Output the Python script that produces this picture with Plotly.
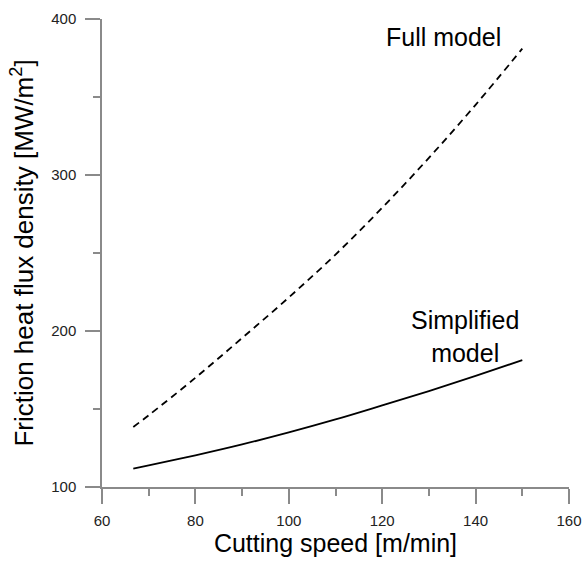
import plotly.graph_objects as go

speed = [66.7, 70, 80, 90, 100, 110, 120, 130, 140, 150]
full_model = [138.5, 146, 170, 195.5, 221.5, 249, 279, 311, 345, 381]
simplified_model = [111.8, 113.8, 120.3, 127.3, 135, 143.3, 152.3, 161.5, 171.2, 181.3]

x_ticks = [60, 80, 100, 120, 140, 160]
y_ticks = [100, 200, 300, 400]

fig = go.Figure()
fig.add_trace(go.Scatter(x=speed, y=full_model, mode="lines", line_shape="spline",
                         line=dict(color="black", width=1.8, dash="7px,5px"), name="Full model"))
fig.add_trace(go.Scatter(x=speed, y=simplified_model, mode="lines", line_shape="spline",
                         line=dict(color="black", width=1.8), name="Simplified model"))

axis_common = dict(showgrid=False, zeroline=False, showline=True, linecolor="#8a8a8a", linewidth=1.5,
                   ticks="outside", ticklen=15, tickcolor="#8a8a8a", tickwidth=1.5,
                   automargin=False, ticklabeloverflow="allow",
                   tickfont=dict(family="Liberation Sans, Arial", size=15, color="#222"))

fig.update_layout(
    width=583, height=561,
    margin=dict(l=102, r=14, t=19, b=74),
    paper_bgcolor="white", plot_bgcolor="white",
    showlegend=False,
    font=dict(family="Liberation Sans, Arial", color="black"),
    xaxis=dict(range=[60, 160], tickvals=x_ticks, ticklabelstandoff=4,
               minor=dict(ticks="outside", ticklen=7, dtick=10, tick0=60, tickcolor="#8a8a8a", tickwidth=1.5),
               title=dict(text="Cutting speed [m/min]", font=dict(size=25), standoff=0),
               **axis_common),
    yaxis=dict(range=[100, 400], tickvals=y_ticks, ticklabelstandoff=6,
               minor=dict(ticks="outside", ticklen=7, dtick=50, tick0=100, tickcolor="#8a8a8a", tickwidth=1.5),
               title=dict(text="Friction heat flux density [MW/m<sup>2</sup>]", font=dict(size=26), standoff=10),
               **axis_common),
    annotations=[
        dict(x=133.2, y=388.5, text="Full model", showarrow=False, font=dict(size=25, color="black")),
        dict(x=137.7, y=196.7, text="Simplified<br>model", showarrow=False, font=dict(size=25, color="black")),
    ],
)

fig.write_html("out.html", config={"displayModeBar": False},
               post_script="document.body.style.margin='0';document.body.style.overflow='hidden';")
